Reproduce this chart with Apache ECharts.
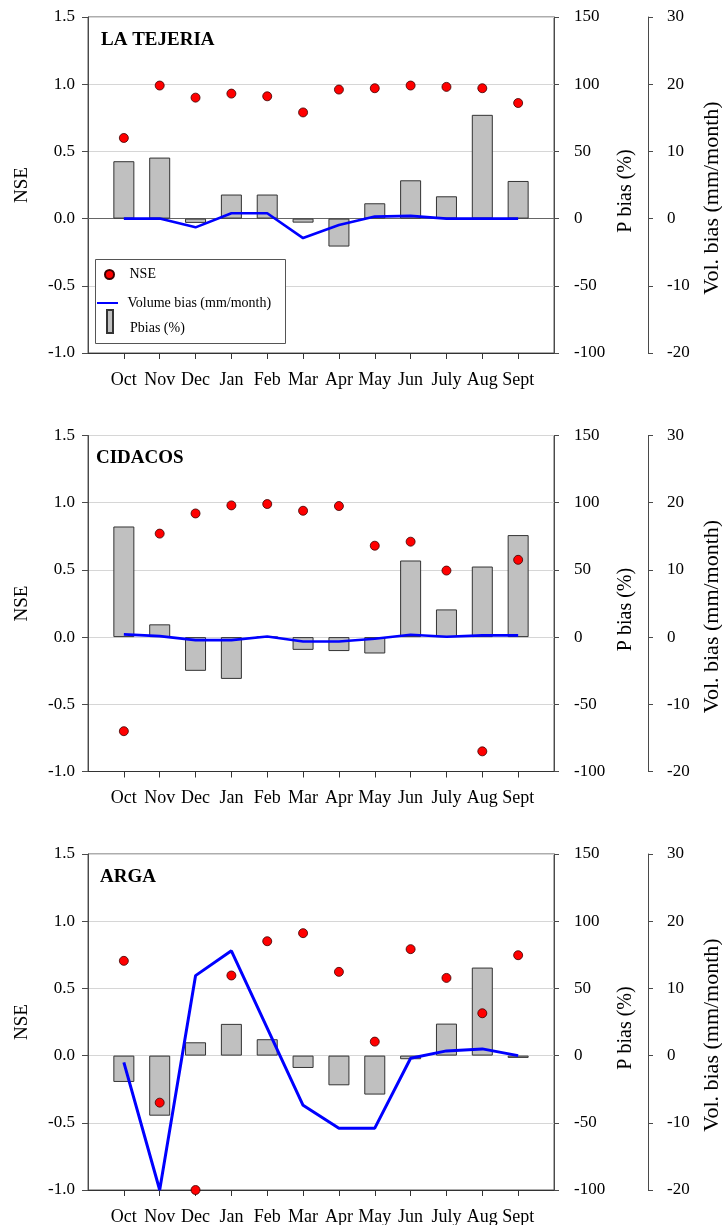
<!DOCTYPE html>
<html>
<head>
<meta charset="utf-8">
<script src="https://cdn.jsdelivr.net/npm/echarts@6/dist/echarts.min.js"></script>
<style>
html,body{margin:0;padding:0;background:#fff;}
#chart{width:722px;height:1225px;}
</style>
</head>
<body>
<div id="chart"></div>
<script>
// ---- data ----
const months = ['Oct','Nov','Dec','Jan','Feb','Mar','Apr','May','Jun','July','Aug','Sept'];
const stations = ['LA TEJERIA','CIDACOS','ARGA'];

const nseTejeria   = [0.60, 0.99, 0.90, 0.93, 0.91, 0.79, 0.96, 0.97, 0.99, 0.98, 0.97, 0.86];
const pbiasTejeria = [42.7, 45.4, -3.2, 17.9, 17.9, -3.0, -20.8, 11.4, 28.5, 16.6, 77.2, 28.0];
const volTejeria   = [0, 0, -1.3, 0.8, 0.8, -2.9, -0.95, 0.3, 0.4, 0, 0, 0];

const nseCidacos   = [-0.70, 0.77, 0.92, 0.98, 0.99, 0.94, 0.975, 0.68, 0.71, 0.495, -0.85, 0.575];
const pbiasCidacos = [82.3, 9.5, -25.1, -31.1, 0, -9.5, -10.4, -12.2, 57.0, 20.6, 52.5, 75.9];
const volCidacos   = [0.4, 0.15, -0.45, -0.45, 0.1, -0.65, -0.65, -0.25, 0.35, 0.05, 0.25, 0.25];

const nseArga      = [0.705, -0.35, -1.0, 0.596, 0.851, 0.911, 0.623, 0.104, 0.792, 0.578, 0.315, 0.747];
const pbiasArga    = [-19.6, -44.7, 9.9, 23.6, 12.2, -9.2, -22.1, -29.0, -2.7, 23.8, 65.5, -1.7];
const volArga      = [-1.0, -20, 11.9, 15.6, 4.1, -7.4, -10.8, -10.8, -0.4, 0.7, 1.0, 0];

const nseTicks   = [-1.0, -0.5, 0.0, 0.5, 1.0, 1.5];
const pbiasTicks = [-100, -50, 0, 50, 100, 150];
const volTicks   = [-20, -10, 0, 10, 20, 30];

const panels = [
  {nse: nseTejeria, pbias: pbiasTejeria, vol: volTejeria},
  {nse: nseCidacos, pbias: pbiasCidacos, vol: volCidacos},
  {nse: nseArga,    pbias: pbiasArga,    vol: volArga}
];

// ---- layout / style ----
const FONT = "'Liberation Serif','Times New Roman',serif";
const gridTops = [17, 435.5, 854];
const gridH = 336;
const gridLeft = 88, gridW = 466;
const titleTops = [31, 449, 868];
const titleLefts = [101, 96, 100];
const axisColor = '#4a4a4a';
const idx = months.map((m, i) => i);

const chart = echarts.init(document.getElementById('chart'), null, {renderer: 'canvas'});

const grid = [], xAxis = [], yAxis = [], series = [], title = [];

panels.forEach((p, k) => {
  grid.push({left: gridLeft, width: gridW, top: gridTops[k], height: gridH,
    outerBoundsMode: 'none', containLabel: false,
    show: true, borderColor: '#5a5a5a', borderWidth: 1, backgroundColor: 'transparent'});
  title.push({text: stations[k], left: titleLefts[k], top: titleTops[k], padding: 0,
    textStyle: {fontFamily: FONT, fontSize: 19, fontWeight: 'bold', color: '#000'}});
  xAxis.push({gridIndex: k, type: 'value', min: -1, max: 12, interval: 1,
    axisLine: {show: true, onZero: false, lineStyle: {color: '#333', width: 1.2}},
    axisTick: {show: true, length: 6, customValues: idx, lineStyle: {color: '#333'}},
    axisLabel: {customValues: idx, margin: 18, fontFamily: FONT, fontSize: 18, color: '#000',
      formatter: v => (v >= 0 && v < months.length) ? months[v] : ''},
    splitLine: {show: false}});
  // NSE axis (left)
  yAxis.push({gridIndex: k, type: 'value', position: 'left',
    min: nseTicks[0], max: nseTicks[nseTicks.length - 1], interval: 0.5,
    name: 'NSE', nameLocation: 'middle', nameRotate: 90, nameGap: 56,
    nameTextStyle: {fontFamily: FONT, fontSize: 19, color: '#000'},
    axisLine: {show: true, onZero: false, lineStyle: {color: axisColor}},
    axisTick: {show: true, length: 6, lineStyle: {color: axisColor}},
    axisLabel: {margin: 13, fontFamily: FONT, fontSize: 17, color: '#000', formatter: v => v.toFixed(1)},
    splitLine: {show: true, lineStyle: {color: '#d6d6d6', width: 1.2}}});
  // P bias axis (right)
  yAxis.push({gridIndex: k, type: 'value', position: 'right',
    min: pbiasTicks[0], max: pbiasTicks[pbiasTicks.length - 1], interval: 50,
    name: 'P bias (%)', nameLocation: 'middle', nameRotate: 90, nameGap: 53,
    nameTextStyle: {fontFamily: FONT, fontSize: 20, color: '#000', padding: [0, 12, 0, 0]},
    axisLine: {show: true, onZero: false, lineStyle: {color: axisColor}},
    axisTick: {show: true, length: 5, lineStyle: {color: axisColor}},
    axisLabel: {margin: 20, fontFamily: FONT, fontSize: 17, color: '#000'},
    splitLine: {show: false}});
  // Vol bias axis (far right)
  yAxis.push({gridIndex: k, type: 'value', position: 'right', offset: 94,
    min: volTicks[0], max: volTicks[volTicks.length - 1], interval: 10,
    name: 'Vol. bias (mm/month)', nameLocation: 'middle', nameRotate: 90, nameGap: 53,
    nameTextStyle: {fontFamily: FONT, fontSize: 22, color: '#000', padding: [0, 26, 0, 0]},
    axisLine: {show: true, onZero: false, lineStyle: {color: axisColor}},
    axisTick: {show: true, length: 5, lineStyle: {color: axisColor}},
    axisLabel: {margin: 19, fontFamily: FONT, fontSize: 17, color: '#000'},
    splitLine: {show: false}});

  const barSeries = {
    name: 'Pbias (%)', type: 'bar', xAxisIndex: k, yAxisIndex: 3 * k + 1,
    barWidth: 21,
    data: p.pbias.map((v, i) => [i, v]),
    itemStyle: {color: '#c0c0c0', borderColor: '#333', borderWidth: 1},
    z: 2, silent: true
  };
  if (k === 0) {
    barSeries.markLine = {silent: true, symbol: 'none', label: {show: false},
      lineStyle: {color: '#666', type: 'solid', width: 1.2},
      data: [{yAxis: 0}], z: 1};
  }
  series.push(barSeries);
  series.push({
    name: 'Volume bias (mm/month)', type: 'line', xAxisIndex: k, yAxisIndex: 3 * k + 2,
    data: p.vol.map((v, i) => [i, v]),
    showSymbol: false, clip: false,
    lineStyle: {color: '#0000ff', width: k === 2 ? 3 : 2.6},
    itemStyle: {color: '#0000ff'},
    z: 3, silent: true
  });
  series.push({
    name: 'NSE', type: 'scatter', xAxisIndex: k, yAxisIndex: 3 * k,
    data: p.nse.map((v, i) => [i, v]),
    symbolSize: 9, clip: false,
    itemStyle: {color: '#ff0000', borderColor: '#3a0000', borderWidth: 0.8, opacity: 1},
    z: 5, silent: true
  });
});

const legTxt = {fontFamily: FONT, fontSize: 14, color: '#000'};
const legend = [
  {data: [{name: 'NSE', icon: 'circle'}], left: 104, top: 267.5, padding: 0,
   itemWidth: 30, itemHeight: 9, textStyle: legTxt, selectedMode: false},
  {data: [{name: 'Volume bias (mm/month)', icon: 'path://M0,0h21v2h-21z'}], left: 97, top: 296, padding: 0,
   itemWidth: 30, itemHeight: 2, textStyle: legTxt, selectedMode: false},
  {data: [{name: 'Pbias (%)', icon: 'path://M0,0h6v23h-6z'}], left: 106, top: 309, padding: 0,
   itemWidth: 30, itemHeight: 23, formatter: '{p|{name}}',
   textStyle: Object.assign({rich: {p: {fontFamily: FONT, fontSize: 14, color: '#000', padding: [13, 0, 0, 0]}}}, legTxt),
   selectedMode: false}
];

chart.setOption({
  animation: false,
  backgroundColor: '#fff',
  title, grid, xAxis, yAxis, series, legend,
  graphic: [{type: 'rect', z: 3, left: 95, top: 259,
    shape: {width: 190, height: 84},
    style: {fill: '#fff', stroke: '#555', lineWidth: 1}}]
});
</script>
</body>
</html>
